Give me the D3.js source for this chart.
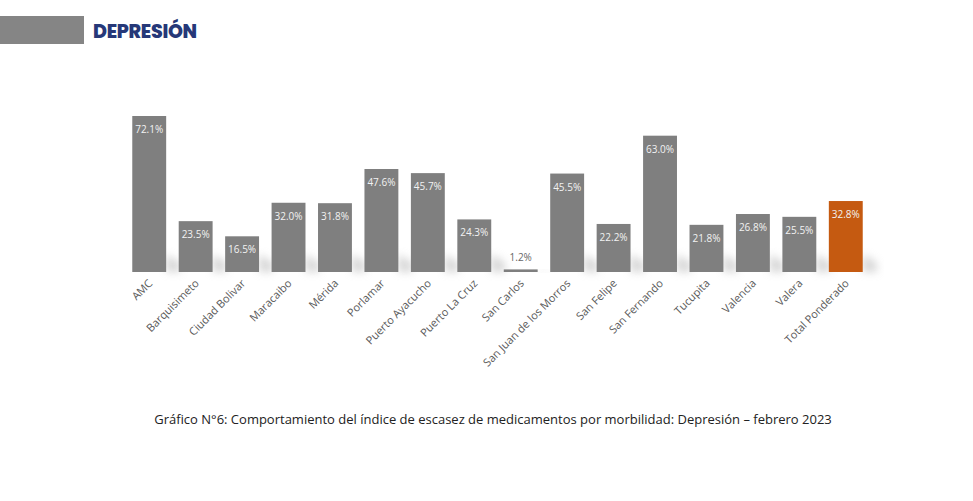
<!DOCTYPE html><html><head><meta charset="utf-8"><script src="https://cdn.jsdelivr.net/npm/d3@7"></script>
<style>body{margin:0;background:#fff}</style></head><body><svg id="c" width="973" height="501"></svg>
<script>
const categories=["AMC","Barquisimeto","Ciudad Bolivar","Maracaibo","Mérida","Porlamar","Puerto Ayacucho","Puerto La Cruz","San Carlos","San Juan de los Morros","San Felipe","San Fernando","Tucupita","Valencia","Valera","Total Ponderado"];
const values=[72.1,23.5,16.5,32.0,31.8,47.6,45.7,24.3,1.2,45.5,22.2,63.0,21.8,26.8,25.5,32.8];
const svg=d3.select("#c");
const defs=svg.append("defs");
const f=defs.append("filter").attr("id","blur").attr("x","-50%").attr("y","-50%").attr("width","200%").attr("height","200%");
f.append("feGaussianBlur").attr("stdDeviation",4);
svg.append("rect").attr("x",0).attr("y",16).attr("width",84).attr("height",28).attr("fill","#858585");
svg.append("text").attr("x",93).attr("y",38).text("DEPRESIÓN").attr("font-family","Poppins, 'Open Sans', sans-serif").attr("font-weight",800).attr("font-size",19).attr("fill","#263878").attr("letter-spacing","-0.3");
const x=d3.scaleBand().domain(categories).range([126,869]).paddingInner(0.27).paddingOuter(0.135);
const y=d3.scaleLinear().domain([0,72.1]).range([272,116]);
const g=svg.append("g");
// shadows
g.selectAll(".sh").data(values).join("path").attr("fill","#bbb").attr("opacity",0.6).attr("filter","url(#blur)")
 .attr("d",(d,i)=>{const x0=x(categories[i])+x.bandwidth(),h=Math.min(272-y(d),30);return `M${x0},272 L${x0},${272-h*0.6} L${x0+14},${272-h*0.3} L${x0+14},272 Z`;});
g.selectAll(".b").data(values).join("rect").attr("x",(d,i)=>x(categories[i])).attr("width",x.bandwidth())
 .attr("y",d=>y(d)).attr("height",d=>272-y(d)).attr("fill",(d,i)=>i===15?"#c55a11":"#7f7f7f");
g.selectAll(".v").data(values).join("text").attr("x",(d,i)=>x(categories[i])+x.bandwidth()/2)
 .attr("y",d=>d<5?y(d)-8:y(d)+17).attr("text-anchor","middle").attr("font-family","'Open Sans',sans-serif").attr("font-size",10)
 .attr("fill",d=>d<5?"#666":"#f2f2f2").text(d=>d.toFixed(1)+"%");
g.selectAll(".l").data(categories).join("text").attr("text-anchor","end").attr("font-family","'Open Sans',sans-serif").attr("font-size",11).attr("fill","#595959")
 .attr("transform",d=>`translate(${x(d)+x.bandwidth()/2+4},${284}) rotate(-45)`).text(d=>d);
svg.append("text").attr("x",493).attr("y",424).attr("text-anchor","middle").attr("font-family","'Open Sans',sans-serif").attr("font-size",13).attr("fill","#222")
 .text("Gráfico N°6: Comportamiento del índice de escasez de medicamentos por morbilidad: Depresión – febrero 2023");
</script></body></html>
